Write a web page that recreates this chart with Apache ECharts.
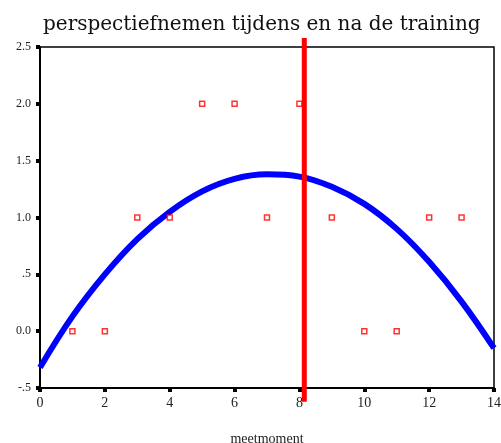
<!DOCTYPE html>
<html><head><meta charset="utf-8">
<script src="https://cdn.jsdelivr.net/npm/echarts@6/dist/echarts.min.js"></script>
<style>html,body{margin:0;padding:0;background:#fff}#c{width:501px;height:443px}</style>
</head><body><div id="c"></div>
<script>
var titleText = 'perspectiefnemen tijdens en na de training';
var xName = 'meetmoment';
// observed scores per meetmoment
var obsX = [1,2,3,4,5,6,7,8,9,10,11,12,13];
var obsY = [0,0,1,1,2,2,1,2,1,0,0,1,1];
// blue trend curve
var curveX = [0,1,2,3,4,5,6,7,8,9,10,11,12,13,14];
var curveY = [-0.32,0.13,0.50,0.81,1.05,1.23,1.34,1.38,1.36,1.27,1.12,0.90,0.61,0.26,-0.15];
// red separation line (end of training)
var cutX = 8.15;
var cutSpan = [-0.62, 2.58];
var yTicks = {'2.5':'2.5','2':'2.0','1.5':'1.5','1':'1.0','0.5':'.5','0':'0.0','-0.5':'-.5'};

var chart = echarts.init(document.getElementById('c'));
var serif = '"Liberation Serif", "DejaVu Serif", serif';
chart.setOption({
  animation: false,
  backgroundColor: '#fff',
  title: {text: titleText, left: 38, top: 10,
    textStyle: {fontFamily: '"DejaVu Serif", serif', fontSize: 20, fontWeight: 'normal', color: '#111'}},
  grid: {left: 40, right: 7, top: 47, bottom: 55, show: true, borderColor: '#000', borderWidth: 1.5,
    backgroundColor: 'transparent', outerBoundsMode: 'none', containLabel: false},
  xAxis: {type: 'value', min: 0, max: 14, interval: 2, name: xName, nameLocation: 'middle', nameGap: 44,
    nameTextStyle: {fontFamily: serif, fontSize: 14, color: '#222'},
    axisLine: {show: true, onZero: false, lineStyle: {color: '#000', width: 2}},
    axisTick: {show: true, length: 4, lineStyle: {color: '#000', width: 4}},
    axisLabel: {fontFamily: serif, fontSize: 14, color: '#222', margin: 8},
    splitLine: {show: false}},
  yAxis: {type: 'value', min: -0.5, max: 2.5, interval: 0.5,
    axisLine: {show: true, onZero: false, lineStyle: {color: '#000', width: 2}},
    axisTick: {show: true, length: 4, lineStyle: {color: '#000', width: 4}},
    axisLabel: {fontFamily: serif, fontSize: 12, color: '#222', margin: 9,
      formatter: function(v){ var k = String(Math.round(v*10)/10); return yTicks[k] !== undefined ? yTicks[k] : k; }},
    splitLine: {show: false}},
  series: [
    {type: 'line', data: curveX.map(function(x,i){return [x, curveY[i]];}), smooth: 0.4, symbol: 'none',
      lineStyle: {color: '#0000ff', width: 6}, z: 3},
    {type: 'scatter', data: obsX.map(function(x,i){return [x, obsY[i]];}), symbol: 'rect', symbolSize: 5,
      itemStyle: {color: '#fff', borderColor: '#ff0000', borderWidth: 1.5}, z: 4},
    {type: 'line', data: [[cutX, cutSpan[0]], [cutX, cutSpan[1]]], clip: false, symbol: 'none',
      lineStyle: {color: '#ff0000', width: 5}, z: 5}
  ]
});
</script></body></html>
